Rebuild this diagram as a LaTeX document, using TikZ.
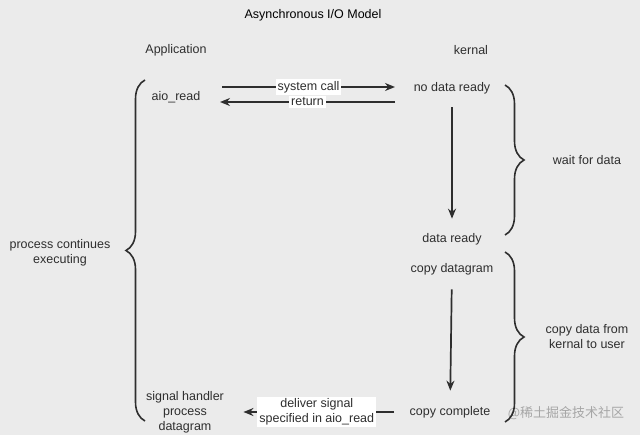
\documentclass[tikz,border=0pt]{standalone}
\usepackage{fontspec}
\setmainfont{Liberation Sans}
\newfontfamily\cjk{Noto Sans CJK SC}
\usetikzlibrary{arrows.meta,decorations.pathreplacing}
\definecolor{bg}{HTML}{EBEBEB}
\definecolor{ink}{HTML}{2E2E2E}

\begin{document}
\begin{tikzpicture}[x=1pt,y=-1pt,>={Stealth[length=10pt,width=8pt]},
		font=\fontsize{12.5}{15}\selectfont, text=ink,
		txt node/.style={align=center},
		box node/.style={fill=white,align=center,inner sep=2pt},
		flow/.style={->,draw=ink,line width=1.7pt},
		brace line/.style={draw=ink,line width=1.6pt,decorate,decoration={brace,amplitude=19pt}}]
		% 背景
		\fill[bg] (0,0) rectangle (640,435);
		% 标题和两列
		\node[txt node, text=black, font=\fontsize{12.5}{14}\selectfont] (title) at (313,15) {Asynchronous I/O Model};
		\node[txt node] (app) at (176,50) {Application};
		\node[txt node] (kern) at (471,50) {kernal};
		% 应用程序一侧
		\node[txt node] (read) at (176,97) {aio\_read};
		\node[txt node] (handler) at (185,412) {signal handler\\process\\datagram};
		\node[txt node] (cont) at (60,253) {process continues\\executing};
		% 内核一侧
		\node[txt node] (noready) at (452,88) {no data ready};
		\node[txt node] (ready) at (452,239) {data ready};
		\node[txt node] (copydg) at (452,269) {copy datagram};
		\node[txt node] (complete) at (450,412) {copy complete};
		\node[txt node] (wait) at (587,160) {wait for data};
		\node[txt node] (copyuser) at (587,337) {copy data from\\kernal to user};
		\node[text=gray!70, font=\fontsize{13}{15}\cjk] (mark) at (566,413) {@稀土掘金技术社区};
		% 系统调用
		\coordinate (callA) at (222,87);
		\coordinate (callB) at (395,87);
		\coordinate (retA) at (395,102);
		\coordinate (retB) at (220,102);
		\path
		(callA) edge[flow] node[box node] {system call} (callB)
		(retA) edge[flow] node[box node] {return} (retB)
		(noready) edge[flow, shorten <=10pt, shorten >=11pt] (ready)
		(copydg) edge[flow, shorten <=11pt, shorten >=12pt] (complete)
		(complete) edge[flow, shorten <=12pt, shorten >=16pt] node[box node] {deliver signal\\specified in aio\_read} (handler);
		% 大括号
		\coordinate (lbTop) at (145,80);
		\coordinate (lbBot) at (145,421);
		\coordinate (rbA) at (505,85);
		\coordinate (rbB) at (505,235);
		\coordinate (rbC) at (505,252);
		\coordinate (rbD) at (505,422);
		\draw[brace line] (lbBot) -- (lbTop);
		\draw[brace line] (rbA) -- (rbB);
		\draw[brace line] (rbC) -- (rbD);
\end{tikzpicture}
\end{document}
